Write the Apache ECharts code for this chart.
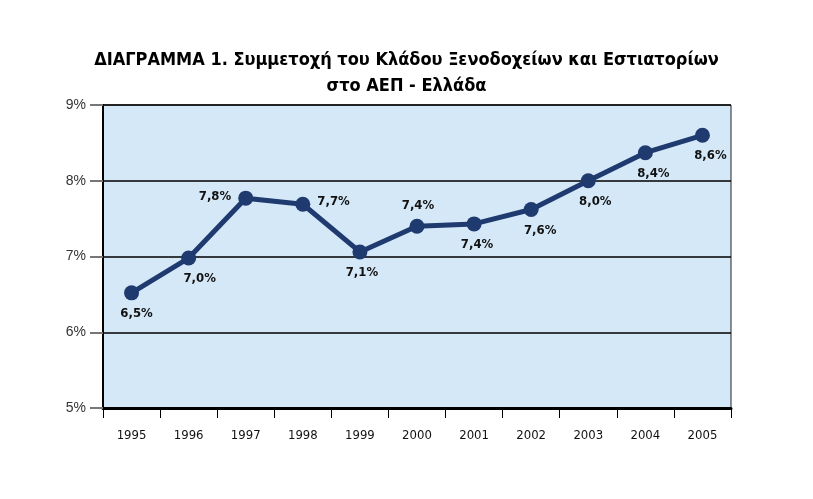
<!DOCTYPE html>
<html>
<head>
<meta charset="utf-8">
<script src="https://cdn.jsdelivr.net/npm/echarts@6/dist/echarts.min.js"></script>
<style>
html,body{margin:0;padding:0;background:#fff;}
#c{width:813px;height:499px;}
</style>
</head>
<body>
<div id="c"></div>
<script>
const titleLines = ['ΔΙΑΓΡΑΜΜΑ 1. Συμμετοχή του Κλάδου Ξενοδοχείων και Εστιατορίων', 'στο ΑΕΠ - Ελλάδα'];
const years = ['1995','1996','1997','1998','1999','2000','2001','2002','2003','2004','2005'];
const share = [6.52, 6.98, 7.77, 7.69, 7.06, 7.40, 7.43, 7.62, 8.00, 8.37, 8.60];
const yTicks = [5, 6, 7, 8, 9];

// label placement (style only)
const labelPlace = [
  {position:'bottom', offset:[5,0]},
  {position:'bottom', offset:[11,0]},
  {position:'left', offset:[0,-2]},
  {position:'right', offset:[0,-3]},
  {position:'bottom', offset:[2,0]},
  {position:'top', offset:[1,0]},
  {position:'bottom', offset:[3,0]},
  {position:'bottom', offset:[9,0]},
  {position:'bottom', offset:[7,0]},
  {position:'bottom', offset:[8,0]},
  {position:'bottom', offset:[8,-1]}
];

const fmt = v => v.toFixed(1).replace('.', ',') + '%';
const COND = '"DejaVu Sans Condensed", "Liberation Sans Narrow", Arial, sans-serif';

const chart = echarts.init(document.getElementById('c'), null, {renderer:'canvas'});
chart.setOption({
  animation: false,
  backgroundColor: '#ffffff',
  title: {
    text: titleLines.join('\n'),
    left: 'center',
    top: 42,
    padding: [5, 17, 5, 5],
    textStyle: {
      fontFamily: COND,
      fontWeight: 'bold',
      fontSize: 18,
      lineHeight: 26,
      color: '#000'
    }
  },
  grid: {
    left: 103, right: 82, top: 105, bottom: 91,
    show: true,
    backgroundColor: '#d5e8f8',
    borderColor: '#222',
    borderWidth: 1
  },
  xAxis: {
    type: 'category',
    data: years,
    boundaryGap: true,
    axisLine: {lineStyle: {color: '#000', width: 3}},
    axisTick: {show: true, length: 10, lineStyle: {color: '#000', width: 1}},
    axisLabel: {
      margin: 21,
      fontFamily: COND,
      fontSize: 13,
      color: '#111'
    }
  },
  yAxis: {
    type: 'value',
    min: yTicks[0],
    max: yTicks[yTicks.length - 1],
    interval: 1,
    axisLine: {show: true, lineStyle: {color: '#000', width: 2}},
    axisTick: {show: true, length: 13, lineStyle: {color: '#777', width: 2}},
    axisLabel: {
      margin: 17,
      formatter: v => v + '%',
      fontFamily: '"Liberation Sans", Arial, sans-serif',
      fontSize: 14,
      color: '#333'
    },
    splitLine: {show: true, lineStyle: {color: '#000', width: 1.5}}
  },
  series: [{
    type: 'line',
    data: share.map((v, i) => ({
      value: v,
      label: {position: labelPlace[i].position, offset: labelPlace[i].offset}
    })),
    lineStyle: {color: '#1f3a6e', width: 5},
    itemStyle: {color: '#1f3a6e'},
    symbol: 'circle',
    symbolSize: 15,
    label: {
      show: true,
      distance: 7,
      formatter: p => fmt(p.value),
      fontFamily: COND,
      fontWeight: 'bold',
      fontSize: 13,
      color: '#111'
    }
  }]
});
</script>
</body>
</html>
